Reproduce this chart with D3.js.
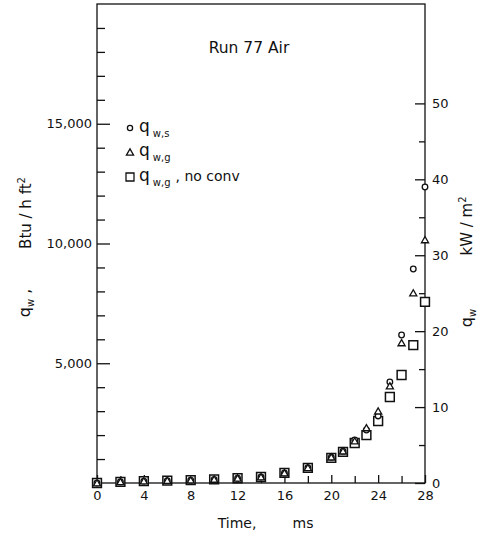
<!DOCTYPE html>
<html><head><meta charset="utf-8">
<script src="https://cdn.jsdelivr.net/npm/d3@7"></script>
<style>
html,body{margin:0;padding:0;background:#fff;}
svg{display:block;font-family:"DejaVu Sans",sans-serif;}
</style></head><body>
<script>
// ---- data ----
const times = [0,2,4,6,8,10,12,14,16,18,20,21,22,23,24,25,26,27,28];
const qws = [0,50,80,100,120,150,200,250,420,640,1080,1330,1800,2210,2800,4220,6180,8935,12360];
const qwg = [0,50,80,100,120,150,200,250,420,640,1080,1330,1750,2300,3000,4050,5850,7930,10150];
const qwgNoConv = [0,50,80,100,120,150,200,250,420,630,1050,1300,1670,2000,2590,3590,4510,5760,7560];
const xMajorTicks = [0,4,8,12,16,20,24,28];
const xMinorTicks = [2,6,10,14,18,22,26];
const leftMajorTicks = [5000,10000,15000];
const leftMinorTicks = [1000,2000,3000,4000,6000,7000,8000,9000,11000,12000,13000,14000,16000,17000,18000,19000];
const rightMajorTicks = [0,10,20,30,40,50];
const rightMinorTicks = [5,15,25,35,45];
const BTU_TO_KW = 0.00315459;

const W=485,H=535;
const L=97,R=425,T=4,B=483;
const svg=d3.select("body").append("svg").attr("width",W).attr("height",H);

const x=d3.scaleLinear().domain([0,28]).range([L,R]);
const y=d3.scaleLinear().domain([0,20000]).range([B,T]);
const y2=d3.scaleLinear().domain([0,20000*BTU_TO_KW]).range([B,T]);

// frame
svg.append("rect").attr("x",L).attr("y",T).attr("width",R-L).attr("height",B-T)
  .attr("fill","none").attr("stroke","#111").attr("stroke-width",1.3);

function style(g){
  g.select(".domain").remove();
  g.selectAll("line").attr("stroke","#111").attr("stroke-width",1.3);
  g.selectAll("text").attr("fill","#111").style("font-size","13px").style("font-family","DejaVu Sans, sans-serif");
}
// left
svg.append("g").attr("transform",`translate(${L},0)`)
  .call(d3.axisLeft(y).tickValues(leftMinorTicks).tickSizeInner(-8).tickSizeOuter(0).tickFormat(""))
  .call(style);
svg.append("g").attr("transform",`translate(${L},0)`)
  .call(d3.axisLeft(y).tickValues(leftMajorTicks).tickSizeInner(-13).tickSizeOuter(0).tickPadding(5).tickFormat(d3.format(",")))
  .call(style);
// right
svg.append("g").attr("transform",`translate(${R},0)`)
  .call(d3.axisRight(y2).tickValues(rightMinorTicks).tickSizeInner(-6).tickSizeOuter(0).tickFormat(""))
  .call(style);
svg.append("g").attr("transform",`translate(${R},0)`)
  .call(d3.axisRight(y2).tickValues(rightMajorTicks).tickSizeInner(-10).tickSizeOuter(0).tickPadding(7).tickFormat(d3.format("d")))
  .call(style);
// bottom
svg.append("g").attr("transform",`translate(0,${B})`)
  .call(d3.axisBottom(x).tickValues(xMinorTicks).tickSizeInner(-7).tickSizeOuter(0).tickFormat(""))
  .call(style);
svg.append("g").attr("transform",`translate(0,${B})`)
  .call(d3.axisBottom(x).tickValues(xMajorTicks).tickSizeInner(-8).tickSizeOuter(0).tickPadding(8).tickFormat(d3.format("d")))
  .call(style);

// markers
const sq=d3.symbol().type(d3.symbolSquare).size(78);
const tri=d3.symbol().type(d3.symbolTriangle).size(22);
svg.append("g").selectAll("path").data(times.map((t,i)=>[t,qwgNoConv[i]])).join("path")
  .attr("d",sq).attr("transform",d=>`translate(${x(d[0])},${y(d[1])})`)
  .attr("fill","#fff").attr("stroke","#111").attr("stroke-width",1.5);
svg.append("g").selectAll("circle").data(times.map((t,i)=>[t,qws[i]])).join("circle")
  .attr("cx",d=>x(d[0])).attr("cy",d=>y(d[1])).attr("r",2.8)
  .attr("fill","#fff").attr("stroke","#111").attr("stroke-width",1.3);
svg.append("g").selectAll("path").data(times.map((t,i)=>[t,qwg[i]])).join("path")
  .attr("d",tri).attr("transform",d=>`translate(${x(d[0])},${y(d[1])+0.8})`)
  .attr("fill","#fff").attr("stroke","#111").attr("stroke-width",1.3);

// title
svg.append("text").attr("x",249).attr("y",53).attr("text-anchor","middle")
  .style("font-size","15.5px").attr("fill","#111").text("Run 77 Air");

// legend
const leg=svg.append("g");
leg.append("circle").attr("cx",130).attr("cy",128).attr("r",2.6).attr("fill","#fff").attr("stroke","#111").attr("stroke-width",1.3);
leg.append("path").attr("d",tri).attr("transform","translate(130,153)").attr("fill","#fff").attr("stroke","#111").attr("stroke-width",1.3);
leg.append("path").attr("d",d3.symbol().type(d3.symbolSquare).size(64)).attr("transform","translate(130,177)").attr("fill","#fff").attr("stroke","#111").attr("stroke-width",1.3);
function qlabel(xp,yp,sub,extra){
  const t=leg.append("text").attr("x",xp).attr("y",yp).attr("fill","#111").style("font-size","17px");
  t.append("tspan").text("q");
  t.append("tspan").attr("dx",3).attr("dy",5).style("font-size","10px").text(sub);
  if(extra){t.append("tspan").attr("dx",5).attr("dy",-5).style("font-size","14px").text(extra);}
}
qlabel(139,132,"w,s");
qlabel(139,156,"w,g");
qlabel(139,181,"w,g",", no conv");

// axis titles
function rot(xp,yp){return svg.append("text").attr("transform",`translate(${xp},${yp}) rotate(-90)`).attr("text-anchor","middle").attr("fill","#111");}
const lq=rot(30,303).style("font-size","16px");
lq.append("tspan").text("q");
lq.append("tspan").attr("dy",4).style("font-size","10px").text("w");
lq.append("tspan").attr("dy",-4).text(" ,");
rot(31,213).style("font-size","15px").html('Btu / h ft<tspan dy="-6" font-size="10px">2</tspan>');
const rq=rot(472,318).style("font-size","16px");
rq.append("tspan").text("q");
rq.append("tspan").attr("dy",4).style("font-size","10px").text("w");
rot(472,226).style("font-size","15px").html('kW / m<tspan dy="-6" font-size="10px">2</tspan>');

// x title
svg.append("text").attr("x",237).attr("y",528).attr("text-anchor","middle").attr("fill","#111").style("font-size","14px").text("Time,");
svg.append("text").attr("x",303).attr("y",528).attr("text-anchor","middle").attr("fill","#111").style("font-size","14px").text("ms");
</script>
</body></html>
